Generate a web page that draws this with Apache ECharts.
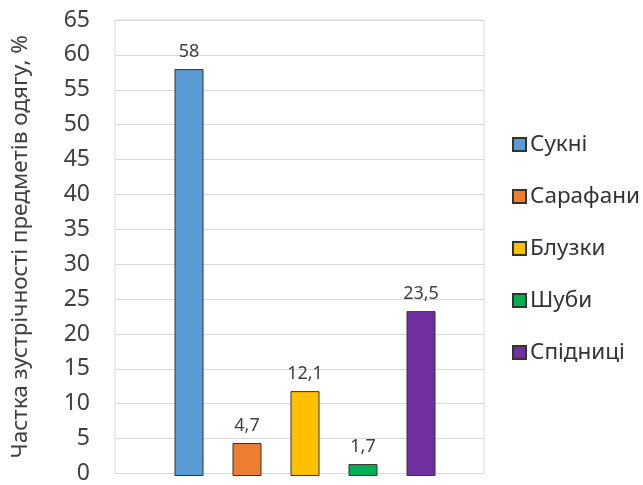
<!DOCTYPE html>
<html><head><meta charset="utf-8">
<script src="https://cdn.jsdelivr.net/npm/echarts@6/dist/echarts.min.js"></script>
<style>html,body{margin:0;padding:0;background:#fff}#c{width:643px;height:485px}</style>
</head><body><div id="c"></div>
<script>
const seriesNames = ['Сукні', 'Сарафани', 'Блузки', 'Шуби', 'Спідниці'];
const seriesValues = [58, 4.7, 12.1, 1.7, 23.5];
const seriesColors = ['#5B9BD5', '#ED7D31', '#FFC000', '#00B050', '#7030A0'];
const yTicks = { min: 0, max: 65, interval: 5 };
const yTitle = 'Частка зустрічності предметів одягу, %';

const FONT = 'Noto Sans';
const chart = echarts.init(document.getElementById('c'));
chart.setOption({
  animation: false,
  textStyle: { fontFamily: FONT },
  grid: [
    { left: 115, right: 159, top: 20, bottom: 9, show: true, borderColor: '#d9d9d9', borderWidth: 1 },
    { left: 126, right: 159, top: 20, bottom: 9 }
  ],
  legend: {
    orient: 'vertical', left: 507, top: 128,
    icon: 'rect',
    itemWidth: 13, itemHeight: 13, itemGap: 29,
    textStyle: { fontSize: 22.5, color: '#333', fontFamily: FONT, lineHeight: 23, padding: [0, 0, 0, -1] },
    data: seriesNames
  },
  xAxis: [
    {
      type: 'category', data: [''], gridIndex: 0,
      axisLine: { show: true, lineStyle: { color: '#d9d9d9' } },
      axisTick: { show: false }, axisLabel: { show: false }
    },
    {
      type: 'category', data: [''], gridIndex: 1,
      axisLine: { show: false }, axisTick: { show: false }, axisLabel: { show: false }
    }
  ],
  yAxis: [
    {
      type: 'value', gridIndex: 0, min: yTicks.min, max: yTicks.max, interval: yTicks.interval,
      name: yTitle, nameLocation: 'middle', nameGap: 83,
      nameTextStyle: { fontSize: 22.5, color: '#404040', fontFamily: FONT },
      axisLine: { show: false }, axisTick: { show: false },
      axisLabel: { fontSize: 23, color: '#404040', margin: 25, fontFamily: FONT },
      splitLine: { lineStyle: { color: '#d9d9d9' } }
    },
    {
      type: 'value', gridIndex: 1, min: yTicks.min, max: yTicks.max, interval: yTicks.interval,
      axisLine: { show: false }, axisTick: { show: false }, axisLabel: { show: false },
      splitLine: { show: false }
    }
  ],
  series: seriesNames.map((n, i) => ({
    name: n, type: 'bar', data: [seriesValues[i]],
    xAxisIndex: 1, yAxisIndex: 1,
    barWidth: 29, barGap: '100%',
    itemStyle: { color: seriesColors[i], borderColor: '#333', borderWidth: 1 },
    label: {
      show: true, position: 'top', distance: 8, fontSize: 18, color: '#404040', fontFamily: FONT,
      formatter: p => String(p.value).replace('.', ',')
    }
  }))
});
</script></body></html>
